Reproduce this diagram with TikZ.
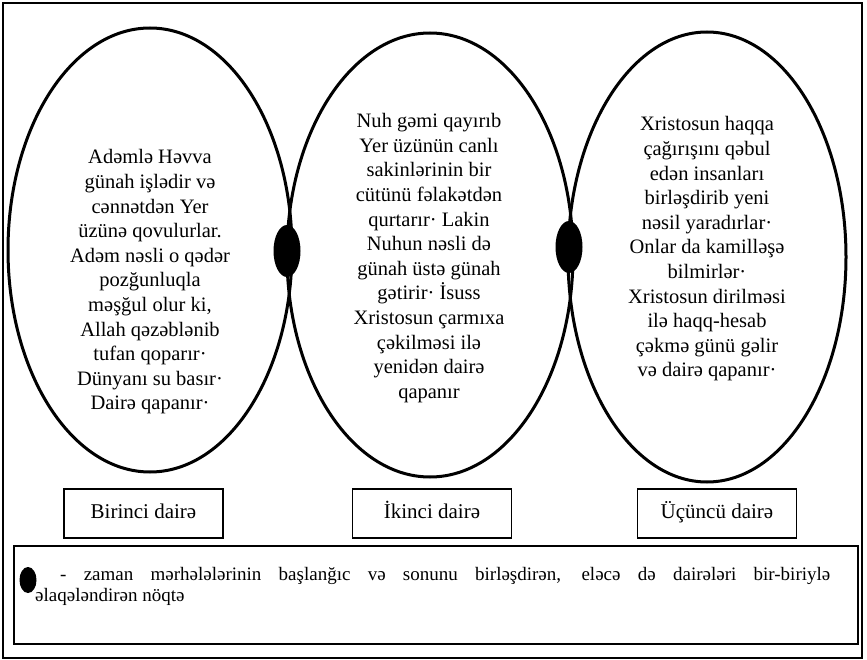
\documentclass[tikz,border=0pt]{standalone}
\usepackage{fontspec}
\setmainfont{Liberation Serif}

\begin{document}
\begin{tikzpicture}[x=1pt, y=-1pt,
    ring/.style={line width=3pt},
    txt/.style={align=center, font=\fontsize{20.5}{24.6}\selectfont},
    lbl/.style={draw, line width=1.2pt, minimum width=159pt, minimum height=49pt, text height=15pt, text depth=5pt, font=\fontsize{21}{24}\selectfont}]
        \useasboundingbox (0, 0) rectangle (867, 660);
        \draw[line width = 1.2pt] (3, 3) rectangle (862, 658);
        \draw[ring] (150, 250) ellipse [x radius=142, y radius=222];
        \draw[ring] (430, 255) ellipse [x radius=143, y radius=222];
        \draw[ring] (707, 257) ellipse [x radius=139, y radius=225];
        \fill (287, 251) ellipse [x radius=13.5, y radius=26];
        \fill (569, 247) ellipse [x radius=13.5, y radius=26];
        \node[txt] (t1) at (150, 282) {Adəmlə Həvva\\ günah işlədir və\\ cənnətdən Yer\\ üzünə qovulurlar.\\ Adəm nəsli o qədər\\ pozğunluqla\\ məşğul olur ki,\\ Allah qəzəblənib\\ tufan qoparır·\\ Dünyanı su basır·\\ Dairə qapanır·};
        \node[txt] (t2) at (429, 258) {Nuh gəmi qayırıb\\ Yer üzünün canlı\\ sakinlərinin bir\\ cütünü fəlakətdən\\ qurtarır· Lakin\\ Nuhun nəsli də\\ günah üstə günah\\ gətirir· İsuss\\ Xristosun çarmıxa\\ çəkilməsi ilə\\ yenidən dairə\\ qapanır};
        \node[txt] (t3) at (707, 249) {Xristosun haqqa\\ çağırışını qəbul\\ edən insanları\\ birləşdirib yeni\\ nəsil yaradırlar·\\ Onlar da kamilləşə\\ bilmirlər·\\ Xristosun dirilməsi\\ ilə haqq-hesab\\ çəkmə günü gəlir\\ və dairə qapanır·};
        \node[lbl] (b1) at (143.5, 513.5) {Birinci dairə};
        \node[lbl] (b2) at (432, 513.5) {İkinci dairə};
        \node[lbl] (b3) at (717, 513.5) {Üçüncü dairə};
        \draw[line width = 1.2pt] (14, 546) rectangle (858, 644);
        \fill (28, 580) ellipse [x radius=8.5, y radius=13];
        \node[anchor=north west, inner sep=0pt, text width=795pt, align=justify,
              font=\fontsize{19}{21}\selectfont] (leg) at (35, 567)
            {\hspace*{25pt}- zaman mərhələlərinin başlanğıc və sonunu birləşdirən, eləcə də dairələri bir-biriylə\linebreak əlaqələndirən nöqtə};
      \end{tikzpicture}
\end{document}
